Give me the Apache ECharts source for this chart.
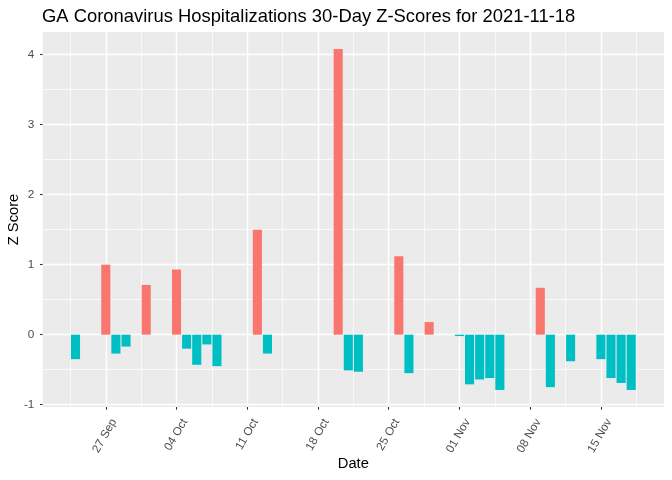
<!DOCTYPE html>
<html>
<head>
<meta charset="utf-8">
<script src="https://cdn.jsdelivr.net/npm/echarts@6/dist/echarts.min.js"></script>
<style>
html,body{margin:0;padding:0;background:#fff;}
#chart{width:672px;height:480px;}
</style>
</head>
<body>
<div id="chart"></div>
<script>
var dates = ['2021-09-24','2021-09-27','2021-09-28','2021-09-29','2021-10-01','2021-10-04','2021-10-05','2021-10-06','2021-10-07','2021-10-08','2021-10-12','2021-10-13','2021-10-20','2021-10-21','2021-10-22','2021-10-26','2021-10-27','2021-10-29','2021-11-01','2021-11-02','2021-11-03','2021-11-04','2021-11-05','2021-11-09','2021-11-10','2021-11-12','2021-11-15','2021-11-16','2021-11-17','2021-11-18'];
var zScores = [-0.35, 1.0, -0.27, -0.17, 0.71, 0.93, -0.2, -0.43, -0.14, -0.45, 1.5, -0.27, 4.08, -0.51, -0.53, 1.12, -0.55, 0.18, -0.02, -0.71, -0.64, -0.62, -0.79, 0.67, -0.75, -0.38, -0.35, -0.62, -0.69, -0.79];
var xTickDates = ['2021-09-27','2021-10-04','2021-10-11','2021-10-18','2021-10-25','2021-11-01','2021-11-08','2021-11-15'];
var yTicks = [-1, 0, 1, 2, 3, 4];

var BASE = Date.UTC(2021, 8, 27);
var DAY = 86400000;
var MONTHS = ['Jan','Feb','Mar','Apr','May','Jun','Jul','Aug','Sep','Oct','Nov','Dec'];
function toDay(s){ var p = s.split('-'); return (Date.UTC(+p[0], +p[1]-1, +p[2]) - BASE) / DAY; }
function fmtDay(d){ var t = new Date(BASE + Math.round(d) * DAY); var dd = t.getUTCDate(); return (dd < 10 ? '0' + dd : '' + dd) + ' ' + MONTHS[t.getUTCMonth()]; }

var dayVals = dates.map(toDay);
var xTicks = xTickDates.map(toDay);
var data = dayVals.map(function(d, i){ return [d, zScores[i]]; });

// ggplot-like expansion (5%) of data range incl. bar half-width 0.45
var halfW = 0.45;
var xLo = Math.min.apply(null, dayVals) - halfW, xHi = Math.max.apply(null, dayVals) + halfW;
var xPad = (xHi - xLo) * 0.05;
var yLo = Math.min(0, Math.min.apply(null, zScores)), yHi = Math.max(0, Math.max.apply(null, zScores));
var yPad = (yHi - yLo) * 0.05;

var RED = '#F8766D', CYAN = '#00BFC4';
var FONT = 'Liberation Sans, Arial, sans-serif';

var chart = echarts.init(document.getElementById('chart'), null, {renderer: 'canvas'});
chart.setOption({
  animation: false,
  backgroundColor: '#ffffff',
  title: {
    text: 'GA Coronavirus Hospitalizations 30-Day Z-Scores for 2021-11-18',
    left: 42, top: 8, padding: 0,
    textStyle: {fontFamily: FONT, fontSize: 18.4, fontWeight: 'normal', color: '#000000'}
  },
  grid: {
    left: 42.7, right: 8, top: 32, bottom: 73,
    show: true, backgroundColor: '#EBEBEB', borderWidth: 0,
    containLabel: false, outerBoundsMode: 'none'
  },
  xAxis: {
    type: 'value',
    min: xLo - xPad, max: xHi + xPad,
    minInterval: 7, maxInterval: 7,
    name: 'Date', nameLocation: 'middle', nameGap: 49.5, nameMoveOverlap: false,
    nameTextStyle: {fontFamily: FONT, fontSize: 14.7, color: '#000000'},
    axisLine: {show: false, onZero: false},
    axisTick: {show: true, customValues: xTicks, length: 2.74, lineStyle: {color: '#333333', width: 1.07}},
    axisLabel: {
      customValues: xTicks, rotate: 60, margin: 8, verticalAlign: 'top', padding: [3.5, 0, 0, 0],
      fontFamily: FONT, fontSize: 11.7, color: '#4D4D4D',
      formatter: function(v){ return fmtDay(v); }
    },
    splitLine: {show: true, lineStyle: {color: '#FFFFFF', width: 1.42}},
    minorTick: {show: false, splitNumber: 2},
    minorSplitLine: {show: true, lineStyle: {color: '#FFFFFF', width: 0.71}}
  },
  yAxis: {
    type: 'value',
    min: yLo - yPad, max: yHi + yPad,
    minInterval: 1, maxInterval: 1,
    name: 'Z Score', nameLocation: 'middle', nameGap: 21, nameMoveOverlap: false,
    nameTextStyle: {fontFamily: FONT, fontSize: 14.7, color: '#000000'},
    axisLine: {show: false, onZero: false},
    axisTick: {show: true, customValues: yTicks, length: 2.74, lineStyle: {color: '#333333', width: 1.07}},
    axisLabel: {
      customValues: yTicks, margin: 8.4,
      fontFamily: FONT, fontSize: 11.7, color: '#4D4D4D'
    },
    splitLine: {show: true, lineStyle: {color: '#FFFFFF', width: 1.42}},
    minorTick: {show: false, splitNumber: 2},
    minorSplitLine: {show: true, lineStyle: {color: '#FFFFFF', width: 0.71}}
  },
  series: [{
    type: 'custom',
    data: data,
    encode: {x: 0, y: 1},
    renderItem: function(params, api){
      var x = api.value(0), v = api.value(1);
      var p1 = api.coord([x - halfW, Math.max(v, 0)]);
      var p2 = api.coord([x + halfW, Math.min(v, 0)]);
      return {
        type: 'rect',
        shape: {x: p1[0], y: p1[1], width: p2[0] - p1[0], height: p2[1] - p1[1]},
        style: {fill: v >= 0 ? RED : CYAN}
      };
    }
  }]
});
</script>
</body>
</html>
